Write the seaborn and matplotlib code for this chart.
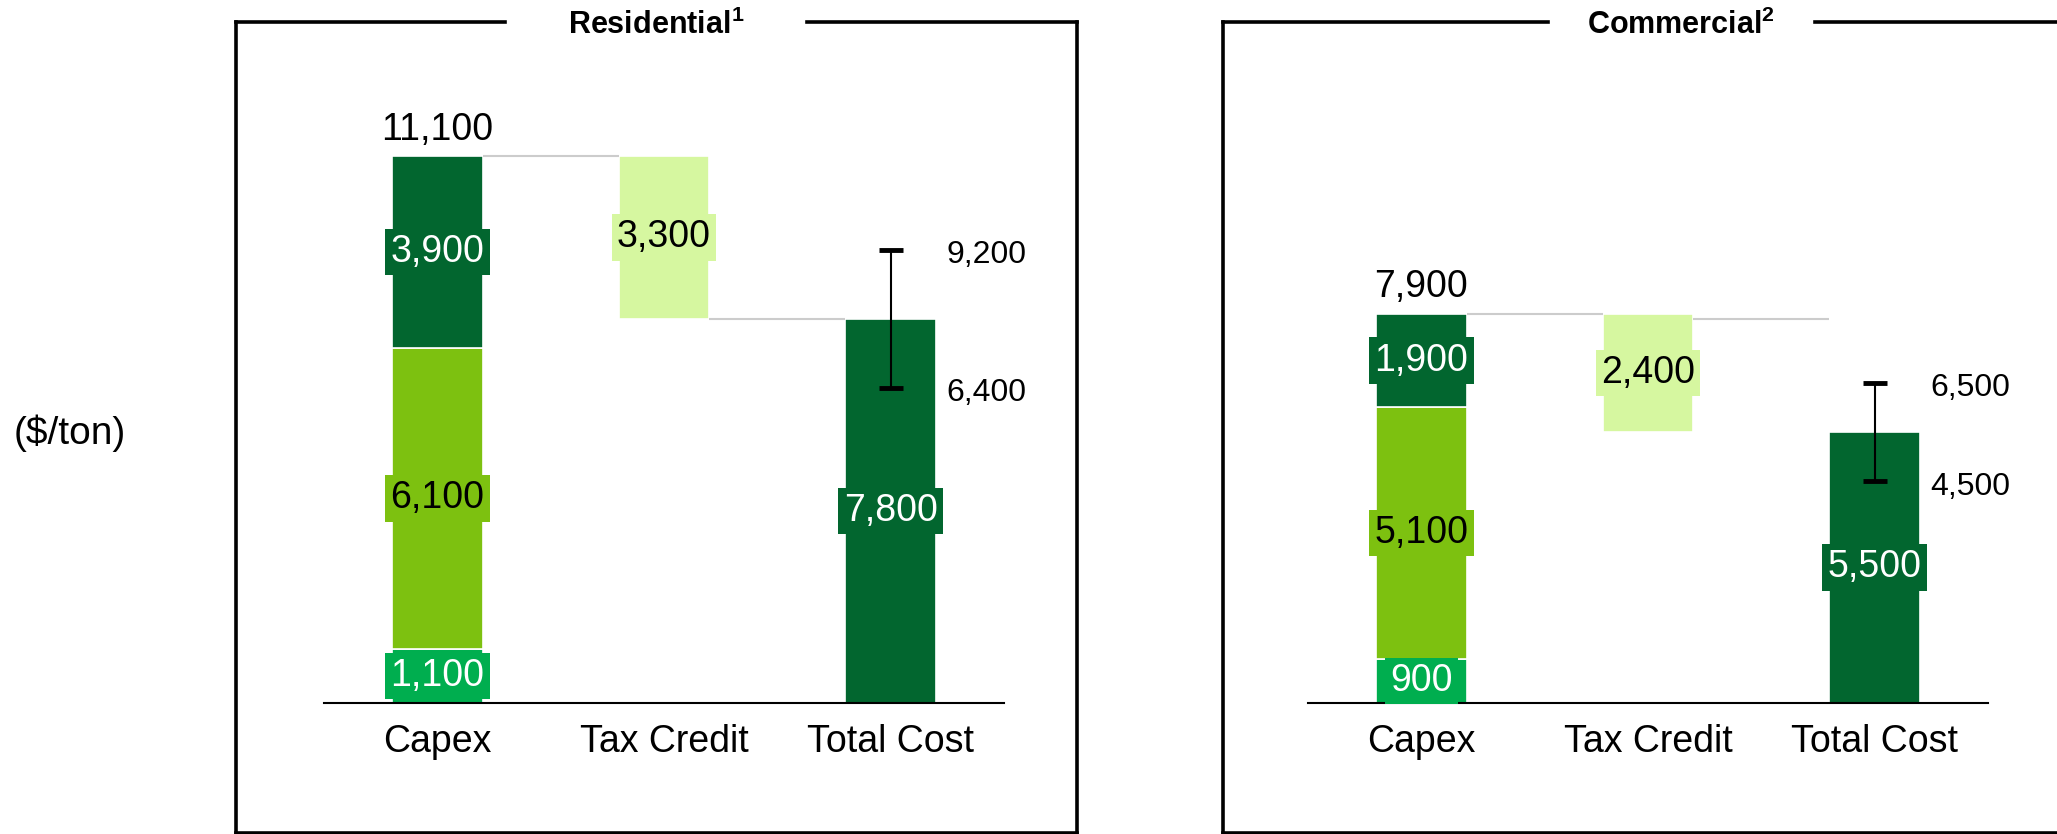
import matplotlib
matplotlib.use("Agg")
import matplotlib.pyplot as plt
import seaborn as sns
from matplotlib.lines import Line2D

sns.set_theme(style="white")
plt.rcParams["font.family"] = ["Liberation Sans", "DejaVu Sans"]
plt.rcParams["mathtext.fontset"] = "custom"
plt.rcParams["mathtext.rm"] = "Liberation Sans"
plt.rcParams["mathtext.bf"] = "Liberation Sans:bold"

# ---- data -------------------------------------------------------------
categories = ["Capex", "Tax Credit", "Total Cost"]
panel_titles = ["Residential", "Commercial"]
panel_notes = ["1", "2"]
unit_label = "($/ton)"

# capex components, stacked bottom to top
res_capex = [1100, 6100, 3900]
com_capex = [900, 5100, 1900]
res_credit = 3300
com_credit = 2400
res_total = 7800
com_total = 5500
# low / high range shown on the total cost bar
res_range = [6400, 9200]
com_range = [4500, 6500]
# levels of the thin connector lines (capex -> credit, credit -> total)
res_links = [11100, 7800]
com_links = [7900, 7800]

# ---- styling ----------------------------------------------------------
DARK = "#02662F"
MID = "#7DC110"
BRIGHT = "#00AE4F"
PALE = "#D6F7A0"
LINK = "#CCCCCC"
capex_colors = [BRIGHT, MID, DARK]
capex_text = ["white", "black", "white"]
BAR_W = 0.4
FS = 27

W, H = 2057, 834
fig = plt.figure(figsize=(W / 100, H / 100), dpi=100)


def px(x, y):
    return x / W, 1 - y / H


def seg_label(ax, x, y, val, fc, tc):
    ax.text(x, y, f"{val:,}", ha="center", va="center", fontsize=FS, color=tc,
            bbox=dict(boxstyle="square,pad=0.14", fc=fc, ec="none"), zorder=5)


def bar(ax, cat, val, bottom, color):
    sns.barplot(x=[cat], y=[val], order=categories, bottom=bottom, color=color,
                saturation=1, width=BAR_W, errorbar=None, edgecolor="white",
                linewidth=1.2, ax=ax)


def draw_panel(ax, capex, credit, total, rng, links):
    top = sum(capex)
    base = 0
    for val, col, tc in zip(capex, capex_colors, capex_text):
        bar(ax, categories[0], val, base, col)
        seg_label(ax, 0, base + val / 2, val, col, tc)
        base += val
    ax.annotate(f"{top:,}", (0, top), xytext=(0, 6), textcoords="offset points",
                ha="center", va="bottom", fontsize=FS, color="black")

    bar(ax, categories[1], credit, top - credit, PALE)
    seg_label(ax, 1, top - credit / 2, credit, PALE, "black")

    bar(ax, categories[2], total, 0, DARK)
    seg_label(ax, 2, total / 2, total, DARK, "white")

    ax.hlines(links[0], BAR_W / 2, 1 - BAR_W / 2, color=LINK, lw=1.5, zorder=1)
    ax.hlines(links[1], 1 + BAR_W / 2, 2 - BAR_W / 2, color=LINK, lw=1.5, zorder=1)

    lo, hi = rng
    ax.errorbar([2], [lo], yerr=[[0], [hi - lo]], fmt="none", ecolor="black",
                elinewidth=1.5, capsize=8.5, capthick=3.5, zorder=6)
    for v in (hi, lo):
        ax.annotate(f"{v:,}", (2.245, v), xytext=(0, -4), textcoords="offset points",
                    ha="left", va="center", fontsize=23, color="black")

    ax.set_xlim(-0.5, 2.5)
    ax.set_ylim(0, 12500)
    ax.set_yticks([])
    ax.set_xlabel("")
    ax.set_ylabel("")
    for s in ("left", "right", "top"):
        ax.spines[s].set_visible(False)
    ax.spines["bottom"].set_color("black")
    ax.spines["bottom"].set_linewidth(1.5)
    ax.tick_params(axis="x", length=0, pad=15, labelsize=FS, labelcolor="black")
    ax.patch.set_alpha(0)


ax_res = fig.add_axes([324 / W, 131 / H, 680 / W, 616 / H])
ax_com = fig.add_axes([1308 / W, 131 / H, 680 / W, 616 / H])
draw_panel(ax_res, res_capex, res_credit, res_total, res_range, res_links)
draw_panel(ax_com, com_capex, com_credit, com_total, com_range, com_links)

# ---- panel frames with titles set into the top edge ----------------------
LW = 2.6


def frame(x0, x1, gap0, gap1, title, note, tx, right=True):
    top, bot = 22, 832.5
    segs = [((x0, top), (gap0, top)), ((gap1, top), (x1, top)),
            ((x0, top), (x0, bot)), ((x0, bot), (x1, bot))]
    if right:
        segs.append(((x1, top), (x1, bot)))
    for (a, b), (c, d) in segs:
        p0, p1 = px(a, b), px(c, d)
        fig.add_artist(Line2D([p0[0], p1[0]], [p0[1], p1[1]], color="black",
                              lw=LW, solid_capstyle="projecting",
                              transform=fig.transFigure))
    fig.text(*px(tx, 25), rf"$\mathbf{{{title}}}^{{\mathbf{{{note}}}}}$",
             ha="center", va="center", fontsize=22, color="black")


frame(235.5, 1077, 505, 807, panel_titles[0], panel_notes[0], 656)
frame(1223, 2070, 1548, 1815, panel_titles[1], panel_notes[1], 1681, right=False)

fig.text(*px(70, 433), unit_label, ha="center", va="center", fontsize=28,
         color="black")

fig.savefig("out.png", dpi=100)
